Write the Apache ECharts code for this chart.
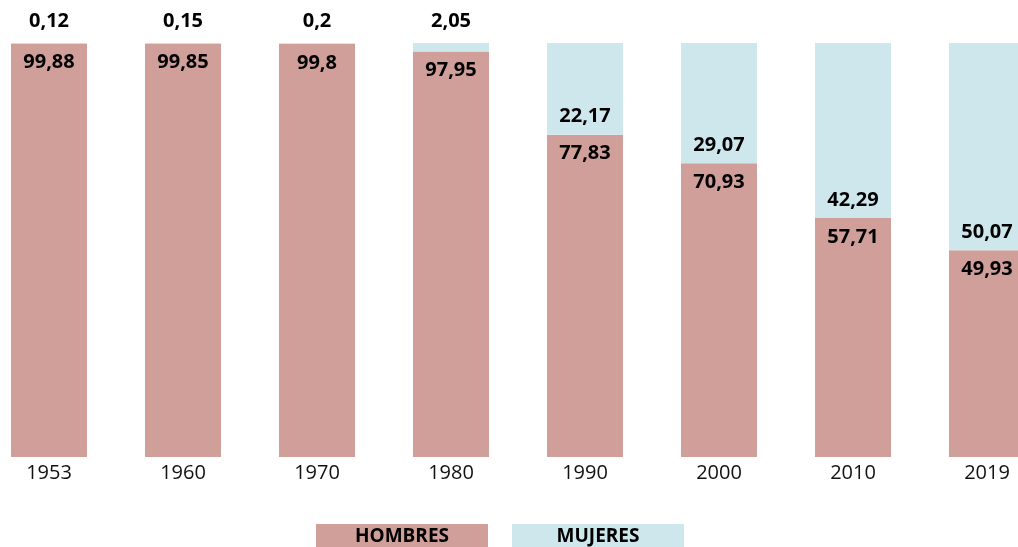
<!DOCTYPE html>
<html><head><meta charset="utf-8">
<script src="https://cdn.jsdelivr.net/npm/echarts@6/dist/echarts.min.js"></script>
<style>html,body{margin:0;padding:0;background:#fff}#c{width:1018px;height:547px}</style>
</head><body><div id="c"></div>
<script>
var years = ['1953','1960','1970','1980','1990','2000','2010','2019'];
var hombres = [99.88, 99.85, 99.8, 97.95, 77.83, 70.93, 57.71, 49.93];
var mujeres = [0.12, 0.15, 0.2, 2.05, 22.17, 29.07, 42.29, 50.07];
var seriesNames = ['HOMBRES', 'MUJERES'];
var colors = ['#d09f99', '#cee7ec'];

function fmt(v){ return String(v).replace('.', ','); }
var labelFont = {fontFamily:'Open Sans', fontWeight:'bold', fontSize:20, color:'#000'};

var chart = echarts.init(document.getElementById('c'));
chart.setOption({
  animation:false,
  grid:{left:-18, width:1072, top:43, height:414, outerBoundsMode:'none', containLabel:false},
  xAxis:{type:'category', data:years, axisLine:{show:false}, axisTick:{show:false},
    axisLabel:{fontFamily:'Open Sans', fontSize:20, color:'#111', margin:6}},
  yAxis:{type:'value', min:0, max:100, show:false},
  series:[
    {name:seriesNames[0], type:'bar', stack:'t', barWidth:76, itemStyle:{color:colors[0]},
     data:hombres.map(function(v){return {value:v, label:{show:true, position:'insideTop', distance:9, formatter:fmt(v)}};}),
     label:labelFont},
    {name:seriesNames[1], type:'bar', stack:'t', barWidth:76, itemStyle:{color:colors[1]},
     data:mujeres.map(function(v){
       return v < 5 ? {value:v, label:{show:true, position:'top', distance:12, formatter:fmt(v)}}
                    : {value:v, label:{show:true, position:'insideBottom', distance:8, formatter:fmt(v)}};
     }),
     label:labelFont}
  ],
  graphic:[
    {type:'group', left:316, top:524, children:[
      {type:'rect', shape:{x:0,y:0,width:172,height:24}, style:{fill:colors[0]}},
      {type:'text', style:{x:86, y:13, text:seriesNames[0], align:'center', verticalAlign:'middle', fill:'#000', font:'bold 19px "Open Sans"'}}
    ]},
    {type:'group', left:512, top:524, children:[
      {type:'rect', shape:{x:0,y:0,width:172,height:24}, style:{fill:colors[1]}},
      {type:'text', style:{x:86, y:13, text:seriesNames[1], align:'center', verticalAlign:'middle', fill:'#000', font:'bold 19px "Open Sans"'}}
    ]}
  ]
});
</script></body></html>
